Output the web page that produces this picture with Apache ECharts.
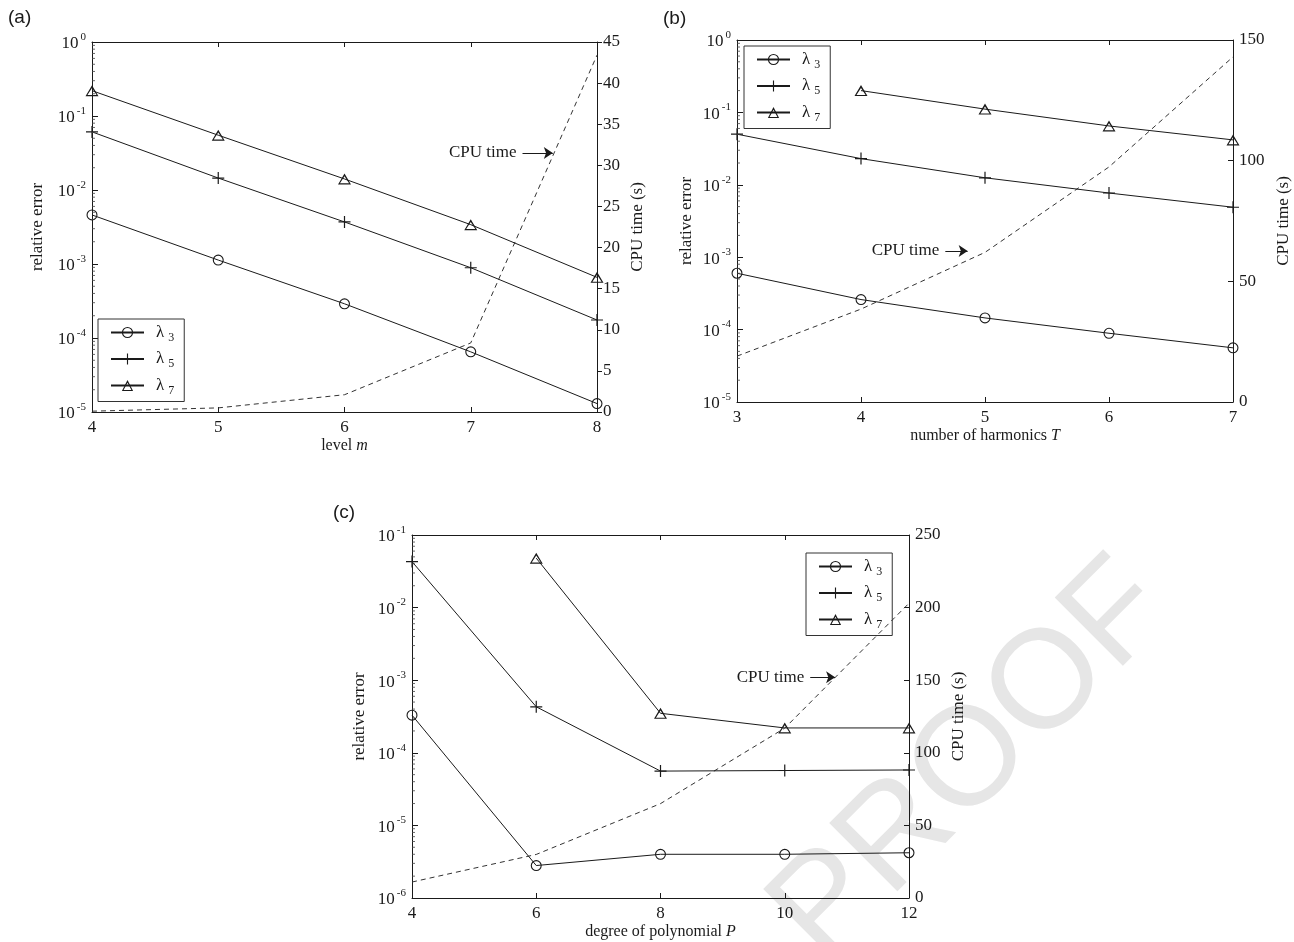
<!DOCTYPE html>
<html><head><meta charset="utf-8">
<script src="https://cdn.jsdelivr.net/npm/echarts@6/dist/echarts.min.js"></script>
<style>html,body{margin:0;padding:0;background:#fff}#chart{width:1294px;height:942px}</style>
</head><body><div id="chart"></div>
<script>
// ---------- data ----------
const seriesNames = ['λ3', 'λ5', 'λ7'];

// (a) level m
const levelM = [4, 5, 6, 7, 8];
const errA_l3 = [4.6e-3, 1.13e-3, 2.9e-4, 6.5e-5, 1.3e-5];
const errA_l5 = [6.1e-2, 1.45e-2, 3.7e-3, 8.9e-4, 1.75e-4];
const errA_l7 = [0.22, 0.055, 0.0141, 0.0034, 6.6e-4];
const cpuA = [0.1, 0.5, 2.1, 8.4, 43.4];

// (b) number of harmonics T
const harmT = [3, 4, 5, 6, 7];
const errB_l3 = [6.0e-4, 2.6e-4, 1.45e-4, 8.9e-5, 5.6e-5];
const errB_l5 = [5.0e-2, 2.3e-2, 1.25e-2, 7.7e-3, 4.9e-3];
const errB_l7 = [null, 0.2, 0.111, 0.065, 0.0417];
const cpuB = [19, 38.5, 62, 97.4, 143];

// (c) degree of polynomial P
const polyP = [4, 6, 8, 10, 12];
const errC_l3 = [3.3e-4, 2.8e-6, 4.0e-6, 4.0e-6, 4.2e-6];
const errC_l5 = [4.3e-2, 4.3e-4, 5.6e-5, 5.7e-5, 5.8e-5];
const errC_l7 = [null, 4.8e-2, 3.5e-4, 2.2e-4, 2.2e-4];
const cpuC = [11, 30, 65, 117, 203];

// ---------- helpers ----------
const SERIF = 'Liberation Serif';
const SANS = 'Liberation Sans';
const INK = '#1a1a1a';
const zip = (xs, ys) => xs.map((x, i) => [x, ys[i]]).filter(p => p[1] != null);
const PLUS = 'path://M4.5,0h1v4.5h4.5v1h-4.5v4.5h-1v-4.5h-4.5v-1h4.5z';
const RING = 'path://M5,0A5,5,0,1,1,5,10A5,5,0,1,1,5,0ZM5,1A4,4,0,1,0,5,9A4,4,0,1,0,5,1Z';
const TRI = 'path://M5,0L10,9L0,9ZM5,2.3L1.5,8.1L8.5,8.1Z';
const markers = {
  'λ3': { symbol: RING, symbolSize: 11 },
  'λ5': { symbol: PLUS, symbolSize: 12 },
  'λ7': { symbol: TRI, symbolSize: [13, 11] }
};

function errSeries(name, xs, ys, xIdx, yIdx) {
  const m = markers[name];
  return {
    type: 'line', name, xAxisIndex: xIdx, yAxisIndex: yIdx,
    data: zip(xs, ys), symbol: m.symbol, symbolSize: m.symbolSize,
    showAllSymbol: true, z: 3,
    lineStyle: { color: INK, width: 1 },
    itemStyle: { color: INK, borderWidth: 0 }
  };
}
function cpuSeries(xs, ys, xIdx, yIdx, arrow) {
  return {
    type: 'line', name: 'CPU time', xAxisIndex: xIdx, yAxisIndex: yIdx,
    data: zip(xs, ys), symbol: 'none', z: 2,
    lineStyle: { color: '#333', width: 1, type: [5, 4] },
    markLine: {
      silent: true, symbol: ['none', 'arrow'], symbolSize: 9,
      lineStyle: { color: INK, width: 1, type: 'solid' },
      label: { show: true, position: 'start', distance: 6, formatter: 'CPU time',
        fontFamily: SERIF, fontSize: 17, color: INK },
      data: [[{ coord: arrow[0] }, { coord: arrow[1] }]]
    }
  };
}
function minorTicks(xIdx, yIdx, xMin, eMin, eMax) {
  const data = [];
  for (let e = eMin; e < eMax; e++) for (let k = 2; k <= 9; k++) data.push([xMin, k * Math.pow(10, e)]);
  return {
    type: 'custom', xAxisIndex: xIdx, yAxisIndex: yIdx, silent: true, z: 4, data,
    renderItem: (params, api) => {
      const p = api.coord([api.value(0), api.value(1)]);
      return { type: 'line', shape: { x1: p[0], y1: p[1], x2: p[0] + 3, y2: p[1] },
        style: { stroke: '#444', lineWidth: 0.8 } };
    }
  };
}
const axisLine = { show: true, lineStyle: { color: INK, width: 1 } };
function xBottom(grid, min, max, interval, nameRich) {
  return {
    type: 'value', gridIndex: grid, position: 'bottom', min, max, interval,
    axisLine, splitLine: { show: false },
    axisTick: { inside: true, length: 5, lineStyle: { color: INK } },
    axisLabel: { fontFamily: SERIF, fontSize: 17, color: INK, margin: 7 },
    name: nameRich, nameLocation: 'middle', nameGap: 26,
    nameTextStyle: { fontFamily: SERIF, fontSize: 16, color: INK,
      rich: { n: { fontFamily: SERIF, fontSize: 16, color: INK },
              i: { fontFamily: SERIF, fontSize: 16, color: INK, fontStyle: 'italic' } } }
  };
}
function xTop(grid, min, max, interval) {
  return {
    type: 'value', gridIndex: grid, position: 'top', min, max, interval,
    axisLine, splitLine: { show: false },
    axisTick: { inside: true, length: 5, lineStyle: { color: INK } },
    axisLabel: { show: false }
  };
}
const logLabel = v => {
  const e = Math.round(Math.log10(v));
  return '{b|10}{e|' + e + '}';
};
function yLog(grid, min, max, gap) {
  return {
    type: 'log', logBase: 10, gridIndex: grid, position: 'left', min, max,
    axisLine, splitLine: { show: false },
    axisTick: { inside: true, length: 6, lineStyle: { color: INK } },
    axisLabel: { formatter: logLabel, margin: 6, color: INK,
      rich: { b: { fontFamily: SERIF, fontSize: 17, color: INK, verticalAlign: 'bottom' },
              e: { fontFamily: SERIF, fontSize: 11, color: INK, verticalAlign: 'bottom', padding: [0, 0, 10, 2] } } },
    name: 'relative error', nameLocation: 'middle', nameGap: gap, nameRotate: 90,
    nameTextStyle: { fontFamily: SERIF, fontSize: 17, color: INK }
  };
}
function yRight(grid, max, interval, gap, outside) {
  return {
    type: 'value', gridIndex: grid, position: 'right', min: 0, max, interval,
    axisLine, splitLine: { show: false },
    axisTick: { inside: !outside, length: 5, lineStyle: { color: INK } },
    axisLabel: { fontFamily: SERIF, fontSize: 17, color: INK, margin: 6 },
    name: 'CPU time (s)', nameLocation: 'middle', nameGap: gap, nameRotate: 90,
    nameTextStyle: { fontFamily: SERIF, fontSize: 17, color: INK }
  };
}
function legendAt(left, top) {
  return {
    data: seriesNames, orient: 'vertical', left, top,
    itemWidth: 33, itemHeight: 14, itemGap: 7,
    padding: [5, 10, 5, 12], borderColor: '#333', borderWidth: 1,
    selectedMode: false,
    formatter: n => '{l|λ}{s|' + n.slice(1) + '}',
    textStyle: { fontFamily: SERIF, color: INK,
      rich: { l: { fontFamily: SERIF, fontSize: 17, color: INK, padding: [0, 0, 0, 7] },
              s: { fontFamily: SERIF, fontSize: 12, color: INK, padding: [10, 0, 0, 4] } } }
  };
}

// ---------- option ----------
const option = {
  animation: false,
  backgroundColor: '#fff',
  grid: [
    { left: 92, top: 42, width: 505, height: 370, outerBoundsMode: 'none' },
    { left: 737, top: 40, width: 496, height: 362, outerBoundsMode: 'none' },
    { left: 412, top: 535, width: 497, height: 363, outerBoundsMode: 'none' }
  ],
  xAxis: [
    xBottom(0, 4, 8, 1, '{n|level }{i|m}'), xTop(0, 4, 8, 1),
    xBottom(1, 3, 7, 1, '{n|number of harmonics }{i|T}'), xTop(1, 3, 7, 1),
    xBottom(2, 4, 12, 2, '{n|degree of polynomial }{i|P}'), xTop(2, 4, 12, 2)
  ],
  yAxis: [
    yLog(0, 1e-5, 1, 46), yRight(0, 45, 5, 32, true),
    yLog(1, 1e-5, 1, 42), yRight(1, 150, 50, 42, false),
    yLog(2, 1e-6, 1e-1, 44), yRight(2, 250, 50, 41, false)
  ],
  legend: [legendAt(98, 319), legendAt(744, 46), legendAt(806, 553)],
  graphic: [
    { type: 'text', x: 972, y: 762, rotation: Math.PI / 4, z: -10, silent: true,
      style: { text: 'PROOF', fontFamily: SANS, fontSize: 140, fill: '#e6e6e6', align: 'center', verticalAlign: 'middle' } },
    { type: 'text', x: 8, y: 8, style: { text: '(a)', fontFamily: SANS, fontSize: 19, fill: INK } },
    { type: 'text', x: 663, y: 9, style: { text: '(b)', fontFamily: SANS, fontSize: 19, fill: INK } },
    { type: 'text', x: 333, y: 503, style: { text: '(c)', fontFamily: SANS, fontSize: 19, fill: INK } }
  ],
  series: [
    errSeries('λ3', levelM, errA_l3, 0, 0),
    errSeries('λ5', levelM, errA_l5, 0, 0),
    errSeries('λ7', levelM, errA_l7, 0, 0),
    cpuSeries(levelM, cpuA, 0, 1, [[7.41, 31.5], [7.65, 31.5]]),
    minorTicks(0, 0, 4, -5, 0),

    errSeries('λ3', harmT, errB_l3, 2, 2),
    errSeries('λ5', harmT, errB_l5, 2, 2),
    errSeries('λ7', harmT, errB_l7, 2, 2),
    cpuSeries(harmT, cpuB, 2, 3, [[4.68, 62.6], [4.86, 62.6]]),
    minorTicks(2, 2, 3, -5, 0),

    errSeries('λ3', polyP, errC_l3, 4, 4),
    errSeries('λ5', polyP, errC_l5, 4, 4),
    errSeries('λ7', polyP, errC_l7, 4, 4),
    cpuSeries(polyP, cpuC, 4, 5, [[10.41, 152], [10.81, 152]]),
    minorTicks(4, 4, 4, -6, -1)
  ]
};
const chart = echarts.init(document.getElementById('chart'), null, { renderer: 'canvas' });
chart.setOption(option);
</script></body></html>
